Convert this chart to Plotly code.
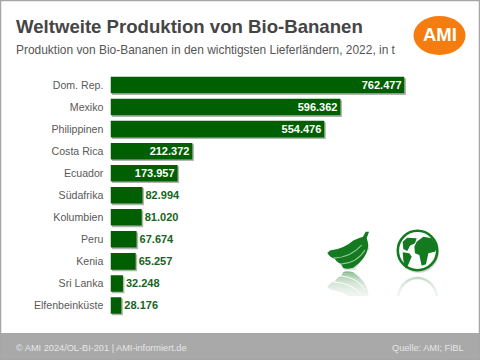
import plotly.graph_objects as go

countries = ["Dom. Rep.", "Mexiko", "Philippinen", "Costa Rica", "Ecuador", "Südafrika",
             "Kolumbien", "Peru", "Kenia", "Sri Lanka", "Elfenbeinküste"]
production = [762477, 596362, 554476, 212372, 173957, 82994, 81020, 67674, 65257, 32248, 28176]
label_pos = ["inside"] * 5 + ["outside"] * 6

W, H = 480, 360
px = lambda x: x / W
py = lambda y: 1 - y / H


def path(points, close=True):
    s = ""
    for cmd, *xy in points:
        s += cmd
        s += " ".join(f"{px(xy[i]):.5f},{py(xy[i+1]):.5f}" for i in range(0, len(xy), 2)) + " "
    return s + ("Z" if close else "")


def poly(points, color):
    return dict(type="path", xref="paper", yref="paper", path=path(points), fillcolor=color, line_width=0, layer="below")


def stroke(points, color, width):
    return dict(type="path", xref="paper", yref="paper", path=path(points, False), fillcolor="rgba(0,0,0,0)",
                line=dict(color=color, width=width), layer="below")


def rect(x0, y0, x1, y1, color):
    return dict(type="rect", xref="paper", yref="paper", x0=px(x0), x1=px(x1), y0=py(y1), y1=py(y0),
                line_width=0, fillcolor=color, layer="below")


def circle(x0, y0, x1, y1, fill, line=None, lw=0):
    return dict(type="circle", xref="paper", yref="paper", x0=px(x0), x1=px(x1), y0=py(y1), y1=py(y0),
                fillcolor=fill, line=dict(color=line or "rgba(0,0,0,0)", width=lw), layer="below")


BX0, BX1 = 110.5, 404.5
Y0, Y1 = 74.0, 316.5
dx, dy = 1.5, 1.5
GREEN = "#005f00"
ICON = "#147a1f"
SEP = "#9cc79c"

fig = go.Figure()
fig.add_bar(y=countries, x=production, orientation="h", xaxis="x", yaxis="y",
            marker=dict(color="rgba(70,80,70,0.42)", line_width=0), width=0.76, hoverinfo="skip")
fig.add_bar(y=countries, x=production, orientation="h", xaxis="x2", yaxis="y2",
            marker=dict(color=GREEN, line_width=0), width=0.75,
            texttemplate="%{x:,.0f}", textposition=label_pos, cliponaxis=False,
            insidetextanchor="end", textangle=0, constraintext="none",
            insidetextfont=dict(color="#ffffff", family="Liberation Sans", size=11, weight="bold"),
            outsidetextfont=dict(color="#17651c", family="Liberation Sans", size=11, weight="bold"))

banana_outline = [("M", 327.3, 253), ("L", 330, 250.5), ("Q", 344, 249, 353.3, 240.5), ("Q", 359, 238, 363, 236.7),
                  ("L", 365.7, 231.7), ("L", 369, 231.7), ("L", 366.7, 238.3), ("Q", 369, 245, 368, 248),
                  ("Q", 366, 259, 353.3, 267.7), ("Q", 347, 269.5, 343.3, 268), ("L", 341, 263.8),
                  ("Q", 336, 262, 335, 258.8), ("Q", 330, 257.5, 327.3, 253)]
banana_seams = [[("M", 333, 258), ("Q", 350, 258, 361.7, 245)],
                [("M", 341, 264), ("Q", 357, 263, 365, 250)]]
n_america = [(248, 50), (262, 38), (290, 40), (285, 55), (270, 62), (262, 78), (250, 72)]
s_america = [(248, 82), (268, 85), (275, 95), (262, 125), (255, 128), (250, 105)]
old_world = [(290, 50), (310, 35), (335, 40), (352, 65), (345, 80), (325, 85), (318, 118), (305, 122), (298, 90),
             (285, 85), (283, 65)]


def zoom_pts(pts):
    return [("M" if i == 0 else "L", 320 + x / 3, 225 + y / 3) for i, (x, y) in enumerate(pts)]


def flip_path(pts, axis):
    return [(p[0],) + tuple(v if i % 2 == 0 else 2 * axis - v for i, v in enumerate(p[1:])) for p in pts]


shapes = [
    rect(0, 333, 480, 360, "#a9a9a9"),
    dict(type="rect", xref="paper", yref="paper", x0=px(0.5), x1=px(479.5), y0=py(359.5), y1=py(0.5),
         line=dict(color="#a6a6a6", width=1.5), fillcolor="rgba(0,0,0,0)", layer="below"),
    circle(413.5, 16, 465.5, 55, "#f57c0e"),
    # reflections, faded out below
    poly(flip_path(banana_outline, 270), "rgba(20,122,31,0.5)"),
    stroke(flip_path(banana_seams[0], 270), "#ffffff", 1),
    stroke(flip_path(banana_seams[1], 270), "#ffffff", 1),
    circle(398, 278, 437, 320, "rgba(0,0,0,0)", "rgba(20,122,31,0.45)", 2.5),
]
for i in range(9):
    shapes.append(rect(322, 273 + i * 2.5, 445, 332, "rgba(255,255,255,0.2)"))
shapes.append(rect(322, 296, 445, 332, "#ffffff"))
# banana bunch
shapes.append(poly(flip_path([], 0) + [("M", 331, 255), ("L", 358, 243), ("L", 370, 248), ("L", 355, 270), ("L", 345, 270.3)],
                   "rgba(70,70,70,0.16)"))
shapes.append(poly(banana_outline, ICON))
shapes += [stroke(s, SEP, 1.1) for s in banana_seams]
# globe
shapes.append(circle(398, 231.5, 439, 272.8, "rgba(60,60,60,0.22)"))
shapes.append(circle(397.8, 230.8, 437.2, 270.2, "#ffffff", ICON, 2.6))
for land in (n_america, s_america, old_world):
    shapes.append(poly(zoom_pts(land), ICON))


def ann(text, x, y, size, color, anchor="left", bold=False):
    return dict(text=text, xref="paper", yref="paper", x=px(x), y=py(y), xanchor=anchor, yanchor="middle",
                showarrow=False, font=dict(family="Liberation Sans", size=size, color=color,
                                           weight="bold" if bold else "normal"))


annotations = [
    ann("Weltweite Produktion von Bio-Bananen", 14, 27, 18.6, "#454545", bold=True),
    ann("Produktion von Bio-Bananen in den wichtigsten Lieferländern, 2022, in t", 14, 50, 11.95, "#555555"),
    ann("AMI", 439.5, 35, 18.5, "#ffffff", "center", True),
    ann("© AMI 2024/OL-BI-201 | AMI-informiert.de", 14, 348, 9.2, "#e6e6e6"),
    ann("Quelle: AMI; FiBL", 466, 348, 9.2, "#e6e6e6", "right"),
]

xrange = [0, max(production)]
hidden = dict(visible=False, fixedrange=True)
fig.update_layout(
    width=W, height=H, margin=dict(l=0, r=0, t=0, b=0), autosize=False,
    paper_bgcolor="#ffffff", plot_bgcolor="rgba(0,0,0,0)", showlegend=False,
    separators=",.", barmode="overlay", shapes=shapes, annotations=annotations,
    xaxis=dict(domain=[px(BX0 + dx), px(BX1 + dx)], range=xrange, anchor="y", **hidden),
    yaxis=dict(domain=[py(Y1 + dy), py(Y0 + dy)], categoryorder="array", categoryarray=countries[::-1], anchor="x", **hidden),
    xaxis2=dict(domain=[px(BX0), px(BX1)], range=xrange, anchor="y2", **hidden),
    yaxis2=dict(domain=[py(Y1), py(Y0)], categoryorder="array", categoryarray=countries[::-1], anchor="x2",
                showline=False, showgrid=False, zeroline=False, ticks="outside", ticklen=4, tickcolor="rgba(0,0,0,0)",
                tickfont=dict(family="Liberation Sans", size=10.6, color="#595959"), fixedrange=True),
)
fig.write_html("out.html", config=dict(displayModeBar=False),
               post_script="document.body.style.margin='0';")
